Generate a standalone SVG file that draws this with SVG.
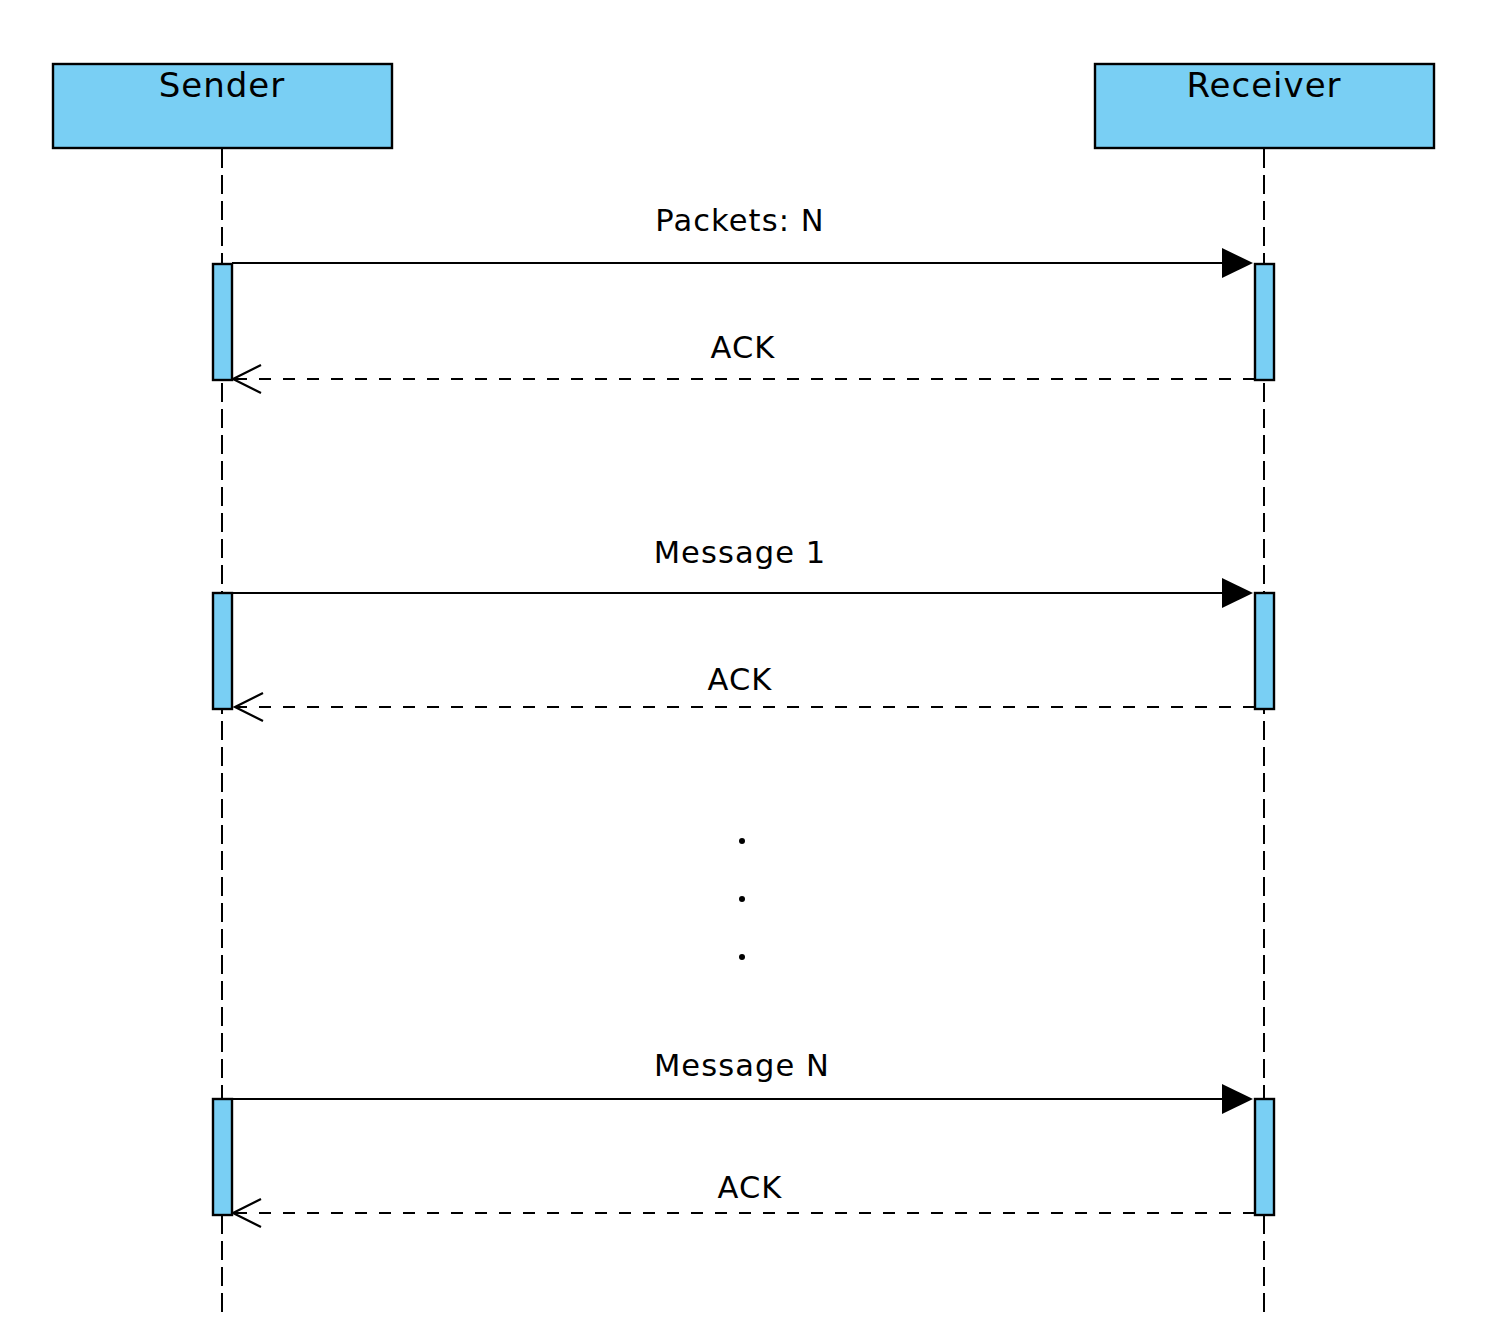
<svg xmlns="http://www.w3.org/2000/svg" width="1492" height="1334" viewBox="0 0 1492 1334">
<defs>
<style>
.box{fill:#79cff4;stroke:#000;stroke-width:2.4}
.life{stroke:#000;stroke-width:2;stroke-dasharray:19 7;fill:none}
.msg{stroke:#000;stroke-width:2.2;fill:none}
.ack{stroke:#000;stroke-width:2.2;stroke-dasharray:12 12;fill:none}
.open{stroke:#000;stroke-width:2.2;fill:none}
.hd{font-family:"DejaVu Sans","Liberation Sans",sans-serif;font-size:34px;letter-spacing:1px;fill:#000;text-anchor:middle}
.lbl{font-family:"DejaVu Sans","Liberation Sans",sans-serif;font-size:30.5px;letter-spacing:1.1px;fill:#000;text-anchor:middle}
</style>
</defs>
<rect width="1492" height="1334" fill="#fff"/>
<g id="connectors">
<line class="life" x1="222" y1="149" x2="222" y2="1312"/>
<line class="life" x1="1264" y1="149" x2="1264" y2="1312"/>
<line class="msg" x1="232" y1="263" x2="1224" y2="263"/>
<polygon points="1222,248 1253,263 1222,278" fill="#000"/>
<line class="ack" x1="1255" y1="379" x2="233" y2="379"/>
<polyline class="open" points="261,365 233,379 261,393"/>
<line class="msg" x1="232" y1="593" x2="1224" y2="593"/>
<polygon points="1222,578 1253,593 1222,608" fill="#000"/>
<line class="ack" x1="1255" y1="707" x2="235" y2="707"/>
<polyline class="open" points="263,693 235,707 263,721"/>
<line class="msg" x1="232" y1="1099" x2="1224" y2="1099"/>
<polygon points="1222,1084 1253,1099 1222,1114" fill="#000"/>
<line class="ack" x1="1255" y1="1213" x2="233" y2="1213"/>
<polyline class="open" points="261,1199 233,1213 261,1227"/>
</g>
<g id="sender">
<rect class="box" x="53" y="64" width="339" height="84"/>
<text class="hd" x="222" y="97">Sender</text>
</g>
<g id="receiver">
<rect class="box" x="1095" y="64" width="339" height="84"/>
<text class="hd" x="1264" y="97">Receiver</text>
</g>
<g id="act-s1"><rect class="box" x="213" y="264" width="19" height="116"/></g>
<g id="act-r1"><rect class="box" x="1255" y="264" width="19" height="116"/></g>
<g id="act-s2"><rect class="box" x="213" y="593" width="19" height="116"/></g>
<g id="act-r2"><rect class="box" x="1255" y="593" width="19" height="116"/></g>
<g id="act-s3"><rect class="box" x="213" y="1099" width="19" height="116"/></g>
<g id="act-r3"><rect class="box" x="1255" y="1099" width="19" height="116"/></g>
<g id="labels">
<text class="lbl" x="740" y="231">Packets: N</text>
<text class="lbl" x="743" y="358">ACK</text>
<text class="lbl" x="740" y="563">Message 1</text>
<text class="lbl" x="740" y="690">ACK</text>
<text class="lbl" x="742" y="1076">Message N</text>
<text class="lbl" x="750" y="1198">ACK</text>
</g>
<g id="dots">
<circle cx="742" cy="841" r="3" fill="#000"/>
<circle cx="742" cy="899" r="3" fill="#000"/>
<circle cx="742" cy="957" r="3" fill="#000"/>
</g>
</svg>
